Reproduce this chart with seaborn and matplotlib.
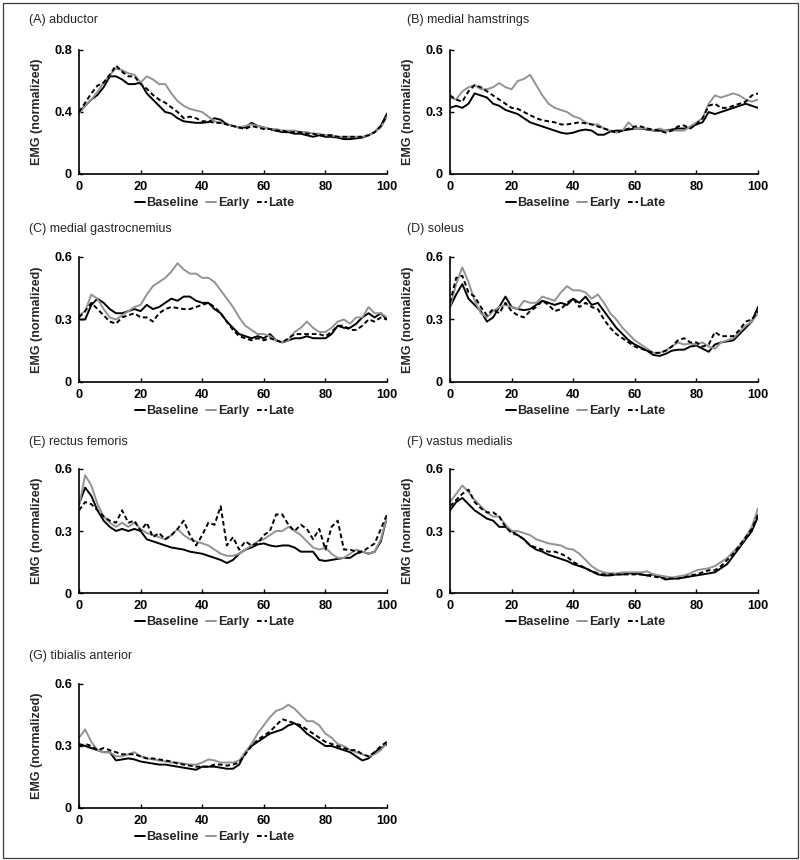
import numpy as np
import pandas as pd
import matplotlib
matplotlib.use("Agg")
import matplotlib.pyplot as plt
from matplotlib.patches import Rectangle
import seaborn as sns

# ============================================================ #
# DATA: normalized EMG over the gait cycle (0-100 %, step 2 %)  #
# ============================================================ #

cycle = list(range(0, 101, 2))                                       # x grid shared by every curve
conditions = ["Baseline", "Early", "Late"]

abd_base = [0.40, 0.44, 0.48, 0.51, 0.56, 0.63, 0.63, 0.61, 0.58, 0.58,
            0.59, 0.52, 0.48, 0.44, 0.40, 0.39, 0.36, 0.34, 0.335, 0.33,
            0.33, 0.335, 0.36, 0.35, 0.32, 0.31, 0.30, 0.30, 0.33, 0.31,
            0.30, 0.29, 0.28, 0.27, 0.27, 0.26, 0.26, 0.25, 0.24, 0.25,
            0.24, 0.24, 0.235, 0.225, 0.225, 0.23, 0.235, 0.25, 0.27, 0.31,
            0.39]
abd_early = [0.39, 0.44, 0.48, 0.53, 0.59, 0.64, 0.68, 0.67, 0.65, 0.64,
             0.59, 0.63, 0.61, 0.58, 0.58, 0.52, 0.47, 0.44, 0.42, 0.41,
             0.40, 0.37, 0.34, 0.33, 0.32, 0.31, 0.30, 0.31, 0.32, 0.31,
             0.30, 0.29, 0.29, 0.28, 0.28, 0.28, 0.27, 0.27, 0.26, 0.26,
             0.25, 0.25, 0.24, 0.24, 0.24, 0.24, 0.24, 0.25, 0.27, 0.30,
             0.37]
abd_late = [0.40, 0.46, 0.52, 0.57, 0.59, 0.64, 0.70, 0.66, 0.63, 0.63,
            0.58, 0.55, 0.51, 0.48, 0.46, 0.43, 0.40, 0.36, 0.37, 0.36,
            0.34, 0.34, 0.33, 0.33, 0.32, 0.31, 0.30, 0.29, 0.31, 0.30,
            0.29, 0.29, 0.28, 0.28, 0.27, 0.27, 0.27, 0.26, 0.26, 0.25,
            0.25, 0.25, 0.24, 0.24, 0.24, 0.24, 0.24, 0.25, 0.27, 0.31,
            0.38]

ham_base = [0.32, 0.33, 0.32, 0.34, 0.39, 0.38, 0.37, 0.34, 0.33, 0.31,
            0.30, 0.29, 0.27, 0.25, 0.24, 0.23, 0.22, 0.21, 0.20, 0.195,
            0.20, 0.21, 0.215, 0.21, 0.19, 0.19, 0.205, 0.21, 0.21, 0.215,
            0.22, 0.22, 0.215, 0.21, 0.21, 0.21, 0.215, 0.22, 0.22, 0.225,
            0.24, 0.25, 0.30, 0.29, 0.30, 0.31, 0.32, 0.33, 0.34, 0.33,
            0.32]
ham_early = [0.37, 0.36, 0.40, 0.42, 0.43, 0.41, 0.41, 0.42, 0.44, 0.42,
             0.41, 0.45, 0.46, 0.48, 0.43, 0.38, 0.34, 0.32, 0.31, 0.30,
             0.28, 0.27, 0.25, 0.24, 0.24, 0.22, 0.21, 0.20, 0.21, 0.25,
             0.22, 0.22, 0.22, 0.21, 0.22, 0.21, 0.21, 0.21, 0.21, 0.23,
             0.25, 0.27, 0.34, 0.38, 0.37, 0.38, 0.39, 0.38, 0.36, 0.35,
             0.36]
ham_late = [0.38, 0.36, 0.35, 0.40, 0.43, 0.42, 0.40, 0.38, 0.36, 0.34,
            0.32, 0.315, 0.30, 0.285, 0.27, 0.26, 0.255, 0.25, 0.24, 0.24,
            0.245, 0.25, 0.245, 0.24, 0.23, 0.22, 0.21, 0.20, 0.21, 0.22,
            0.23, 0.23, 0.22, 0.215, 0.21, 0.20, 0.21, 0.23, 0.235, 0.22,
            0.24, 0.27, 0.33, 0.34, 0.32, 0.32, 0.33, 0.34, 0.35, 0.38,
            0.39]

gas_base = [0.30, 0.30, 0.37, 0.40, 0.38, 0.35, 0.33, 0.33, 0.34, 0.35,
            0.34, 0.37, 0.35, 0.36, 0.38, 0.40, 0.39, 0.41, 0.41, 0.39,
            0.38, 0.38, 0.35, 0.33, 0.29, 0.26, 0.23, 0.22, 0.21, 0.22,
            0.21, 0.23, 0.20, 0.19, 0.20, 0.21, 0.21, 0.22, 0.21, 0.21,
            0.21, 0.23, 0.27, 0.26, 0.26, 0.28, 0.31, 0.33, 0.31, 0.33,
            0.30]
gas_early = [0.32, 0.34, 0.42, 0.40, 0.35, 0.31, 0.30, 0.32, 0.34, 0.36,
             0.37, 0.42, 0.46, 0.48, 0.50, 0.53, 0.57, 0.54, 0.52, 0.52,
             0.50, 0.50, 0.48, 0.44, 0.40, 0.36, 0.31, 0.27, 0.25, 0.23,
             0.23, 0.22, 0.20, 0.19, 0.20, 0.24, 0.26, 0.29, 0.26, 0.24,
             0.24, 0.26, 0.29, 0.30, 0.28, 0.31, 0.31, 0.36, 0.33, 0.33,
             0.31]
gas_late = [0.31, 0.34, 0.38, 0.35, 0.32, 0.29, 0.28, 0.31, 0.32, 0.33,
            0.31, 0.31, 0.29, 0.33, 0.35, 0.36, 0.355, 0.35, 0.35, 0.36,
            0.37, 0.38, 0.36, 0.33, 0.29, 0.25, 0.22, 0.21, 0.20, 0.21,
            0.20, 0.21, 0.20, 0.19, 0.21, 0.23, 0.23, 0.23, 0.23, 0.23,
            0.22, 0.24, 0.27, 0.27, 0.25, 0.25, 0.27, 0.30, 0.29, 0.31,
            0.30]

sol_base = [0.36, 0.42, 0.47, 0.40, 0.37, 0.34, 0.29, 0.31, 0.36, 0.41,
            0.36, 0.35, 0.345, 0.35, 0.37, 0.39, 0.38, 0.37, 0.38, 0.37,
            0.40, 0.38, 0.41, 0.37, 0.38, 0.34, 0.30, 0.26, 0.23, 0.20,
            0.18, 0.165, 0.15, 0.13, 0.125, 0.135, 0.15, 0.155, 0.155, 0.17,
            0.175, 0.16, 0.145, 0.18, 0.19, 0.195, 0.20, 0.23, 0.26, 0.29,
            0.36]
sol_early = [0.36, 0.47, 0.55, 0.48, 0.39, 0.33, 0.31, 0.34, 0.36, 0.37,
             0.36, 0.35, 0.39, 0.38, 0.38, 0.41, 0.40, 0.39, 0.43, 0.46,
             0.44, 0.44, 0.43, 0.40, 0.42, 0.38, 0.33, 0.30, 0.26, 0.23,
             0.20, 0.18, 0.16, 0.14, 0.14, 0.15, 0.17, 0.19, 0.18, 0.185,
             0.18, 0.19, 0.17, 0.16, 0.19, 0.20, 0.21, 0.24, 0.27, 0.29,
             0.33]
sol_late = [0.38, 0.50, 0.51, 0.43, 0.41, 0.36, 0.32, 0.35, 0.33, 0.38,
            0.34, 0.32, 0.31, 0.34, 0.36, 0.39, 0.37, 0.34, 0.35, 0.38,
            0.40, 0.36, 0.38, 0.36, 0.35, 0.30, 0.26, 0.23, 0.21, 0.19,
            0.17, 0.16, 0.15, 0.14, 0.14, 0.15, 0.17, 0.20, 0.21, 0.19,
            0.19, 0.17, 0.18, 0.24, 0.22, 0.22, 0.22, 0.25, 0.29, 0.30,
            0.34]

rec_base = [0.43, 0.51, 0.47, 0.40, 0.35, 0.32, 0.30, 0.31, 0.30, 0.31,
            0.30, 0.26, 0.25, 0.24, 0.23, 0.22, 0.215, 0.21, 0.20, 0.195,
            0.19, 0.18, 0.17, 0.16, 0.145, 0.16, 0.19, 0.21, 0.22, 0.235,
            0.24, 0.23, 0.225, 0.23, 0.23, 0.22, 0.20, 0.20, 0.20, 0.16,
            0.155, 0.16, 0.165, 0.17, 0.17, 0.19, 0.20, 0.19, 0.20, 0.25,
            0.37]
rec_early = [0.42, 0.57, 0.52, 0.43, 0.37, 0.34, 0.32, 0.34, 0.32, 0.34,
             0.31, 0.29, 0.28, 0.27, 0.26, 0.28, 0.31, 0.28, 0.26, 0.25,
             0.24, 0.23, 0.21, 0.19, 0.18, 0.18, 0.19, 0.21, 0.23, 0.25,
             0.26, 0.28, 0.30, 0.30, 0.32, 0.30, 0.28, 0.25, 0.22, 0.21,
             0.22, 0.19, 0.17, 0.17, 0.19, 0.21, 0.20, 0.19, 0.20, 0.26,
             0.37]
rec_late = [0.40, 0.44, 0.43, 0.40, 0.37, 0.35, 0.34, 0.40, 0.34, 0.35,
            0.30, 0.34, 0.27, 0.29, 0.26, 0.28, 0.31, 0.35, 0.28, 0.23,
            0.28, 0.34, 0.33, 0.42, 0.23, 0.27, 0.21, 0.25, 0.23, 0.24,
            0.28, 0.30, 0.38, 0.38, 0.33, 0.30, 0.33, 0.31, 0.26, 0.31,
            0.21, 0.32, 0.35, 0.21, 0.21, 0.20, 0.20, 0.22, 0.24, 0.31,
            0.38]

vas_base = [0.40, 0.44, 0.46, 0.43, 0.40, 0.38, 0.36, 0.35, 0.32, 0.32,
            0.30, 0.28, 0.26, 0.23, 0.21, 0.20, 0.185, 0.175, 0.165, 0.155,
            0.14, 0.13, 0.12, 0.105, 0.09, 0.085, 0.085, 0.09, 0.09, 0.095,
            0.095, 0.09, 0.085, 0.09, 0.08, 0.065, 0.07, 0.07, 0.075, 0.08,
            0.085, 0.09, 0.095, 0.10, 0.12, 0.14, 0.18, 0.22, 0.26, 0.30,
            0.37]
vas_early = [0.44, 0.48, 0.52, 0.49, 0.45, 0.42, 0.39, 0.37, 0.37, 0.33,
             0.30, 0.30, 0.29, 0.28, 0.26, 0.25, 0.24, 0.235, 0.23, 0.215,
             0.21, 0.19, 0.16, 0.13, 0.11, 0.10, 0.095, 0.095, 0.10, 0.10,
             0.10, 0.10, 0.105, 0.09, 0.085, 0.08, 0.075, 0.08, 0.085, 0.095,
             0.11, 0.115, 0.12, 0.13, 0.15, 0.17, 0.20, 0.23, 0.27, 0.32,
             0.41]
vas_late = [0.42, 0.45, 0.48, 0.50, 0.44, 0.41, 0.39, 0.39, 0.37, 0.32,
            0.29, 0.28, 0.26, 0.23, 0.22, 0.21, 0.20, 0.20, 0.19, 0.175,
            0.15, 0.135, 0.12, 0.105, 0.095, 0.09, 0.09, 0.09, 0.09, 0.09,
            0.09, 0.09, 0.085, 0.08, 0.075, 0.07, 0.07, 0.07, 0.075, 0.085,
            0.09, 0.10, 0.11, 0.11, 0.13, 0.16, 0.19, 0.23, 0.27, 0.31,
            0.38]

tib_base = [0.31, 0.30, 0.29, 0.28, 0.27, 0.27, 0.23, 0.235, 0.24, 0.235,
            0.225, 0.22, 0.215, 0.21, 0.21, 0.205, 0.20, 0.195, 0.19, 0.185,
            0.20, 0.20, 0.20, 0.195, 0.19, 0.19, 0.21, 0.27, 0.30, 0.32,
            0.34, 0.36, 0.37, 0.38, 0.40, 0.41, 0.39, 0.36, 0.34, 0.32,
            0.30, 0.30, 0.29, 0.28, 0.27, 0.25, 0.23, 0.24, 0.27, 0.29,
            0.31]
tib_early = [0.34, 0.38, 0.32, 0.28, 0.27, 0.27, 0.25, 0.25, 0.26, 0.27,
             0.25, 0.24, 0.235, 0.23, 0.225, 0.22, 0.22, 0.215, 0.21, 0.21,
             0.22, 0.235, 0.23, 0.22, 0.22, 0.22, 0.23, 0.27, 0.31, 0.36,
             0.40, 0.44, 0.47, 0.48, 0.50, 0.48, 0.45, 0.42, 0.42, 0.40,
             0.36, 0.34, 0.31, 0.30, 0.28, 0.27, 0.26, 0.25, 0.26, 0.28,
             0.32]
tib_late = [0.30, 0.31, 0.30, 0.28, 0.29, 0.28, 0.27, 0.26, 0.26, 0.26,
            0.25, 0.24, 0.24, 0.235, 0.23, 0.225, 0.215, 0.21, 0.205, 0.20,
            0.20, 0.20, 0.21, 0.21, 0.205, 0.21, 0.22, 0.26, 0.30, 0.33,
            0.35, 0.37, 0.40, 0.43, 0.42, 0.41, 0.40, 0.38, 0.36, 0.34,
            0.32, 0.31, 0.30, 0.29, 0.28, 0.28, 0.26, 0.25, 0.27, 0.30,
            0.32]

panel_titles = ["(A) abductor", "(B) medial hamstrings", "(C) medial gastrocnemius",
                "(D) soleus", "(E) rectus femoris", "(F) vastus medialis",
                "(G) tibialis anterior"]
panel_series = [(abd_base, abd_early, abd_late), (ham_base, ham_early, ham_late),
                (gas_base, gas_early, gas_late), (sol_base, sol_early, sol_late),
                (rec_base, rec_early, rec_late), (vas_base, vas_early, vas_late),
                (tib_base, tib_early, tib_late)]
y_ticks_abd = [0, 0.4, 0.8]
y_ticks_other = [0, 0.3, 0.6]
x_ticks = [0, 20, 40, 60, 80, 100]

# ============================================================ #
# LAYOUT (pixel boxes: left, top, right, bottom) and styling    #
# ============================================================ #

W, H = 800, 860
boxes = [(79, 50, 387, 174), (450, 50, 758, 174),
         (79, 257, 387, 382), (450, 257, 758, 382),
         (79, 469, 387, 593), (450, 469, 758, 593),
         (79, 684, 387, 808)]
title_pos = [(29, 20), (407, 20), (29, 229), (407, 229),
             (29, 442), (407, 442), (29, 656)]

palette = {"Baseline": "#000000", "Early": "#939393", "Late": "#000000"}
dashes = {"Baseline": "", "Early": "", "Late": (2.4, 1.5)}

sns.set_style("ticks")
plt.rcParams["font.family"] = ["Liberation Sans", "DejaVu Sans"]   # Arial-like look

fig = plt.figure(figsize=(W / 100, H / 100), dpi=100)

for i, (title, series) in enumerate(zip(panel_titles, panel_series)):
    rows = []                                                        # long-form table for seaborn
    for cond, vals in zip(conditions, series):
        for x, v in zip(cycle, vals):
            rows.append({"Cycle": x, "EMG": v, "Condition": cond})
    df = pd.DataFrame(rows)

    l, t, r, b = boxes[i]
    ax = fig.add_axes([l / W, 1 - b / H, (r - l) / W, (b - t) / H])
    sns.lineplot(data=df, x="Cycle", y="EMG", hue="Condition", style="Condition",
                 hue_order=conditions, style_order=conditions, palette=palette,
                 dashes=dashes, estimator=None, errorbar=None, sort=False,
                 linewidth=1.4, ax=ax)

    yt = y_ticks_abd if i == 0 else y_ticks_other
    ax.set_xlim(0, 100)
    ax.set_ylim(0, yt[-1])
    ax.set_xticks(x_ticks)
    ax.set_xticklabels([str(v) for v in x_ticks])
    ax.set_yticks(yt)
    ax.set_yticklabels(["0" if v == 0 else f"{v:.1f}" for v in yt])
    for lab in ax.get_xticklabels() + ax.get_yticklabels():
        lab.set_fontweight("bold")
        lab.set_fontsize(9.2)
    ax.tick_params(axis="both", direction="in", length=3, width=1, colors="black")
    ax.tick_params(axis="y", pad=5)
    ax.tick_params(axis="x", pad=5)
    sns.despine(ax=ax)
    for side in ["left", "bottom"]:
        ax.spines[side].set_linewidth(1.2)
        ax.spines[side].set_color("black")

    ax.set_xlabel("")
    ax.set_ylabel("EMG (normalized)", fontsize=9, fontweight="bold")
    ax.yaxis.set_label_coords(-0.117, 0.5)

    handles, labels = ax.get_legend_handles_labels()                 # rebuild legend under the axis
    ax.legend(handles, labels, loc="center", bbox_to_anchor=(0.44, -0.234),
              ncol=3, frameon=False, handlelength=0.8, handletextpad=0.1,
              columnspacing=0.6, prop={"weight": "bold", "size": 9.2})

    tx, ty = title_pos[i]
    fig.text(tx / W, 1 - ty / H, title, fontsize=9, va="center", ha="left")

# thin frame around the whole figure
fig.patches.append(Rectangle((2.5 / W, 2.5 / H), 1 - 5 / W, 1 - 5 / H,
                             transform=fig.transFigure, fill=False,
                             edgecolor="#3c3c3c", linewidth=0.9))

fig.savefig("out.png", dpi=100)
